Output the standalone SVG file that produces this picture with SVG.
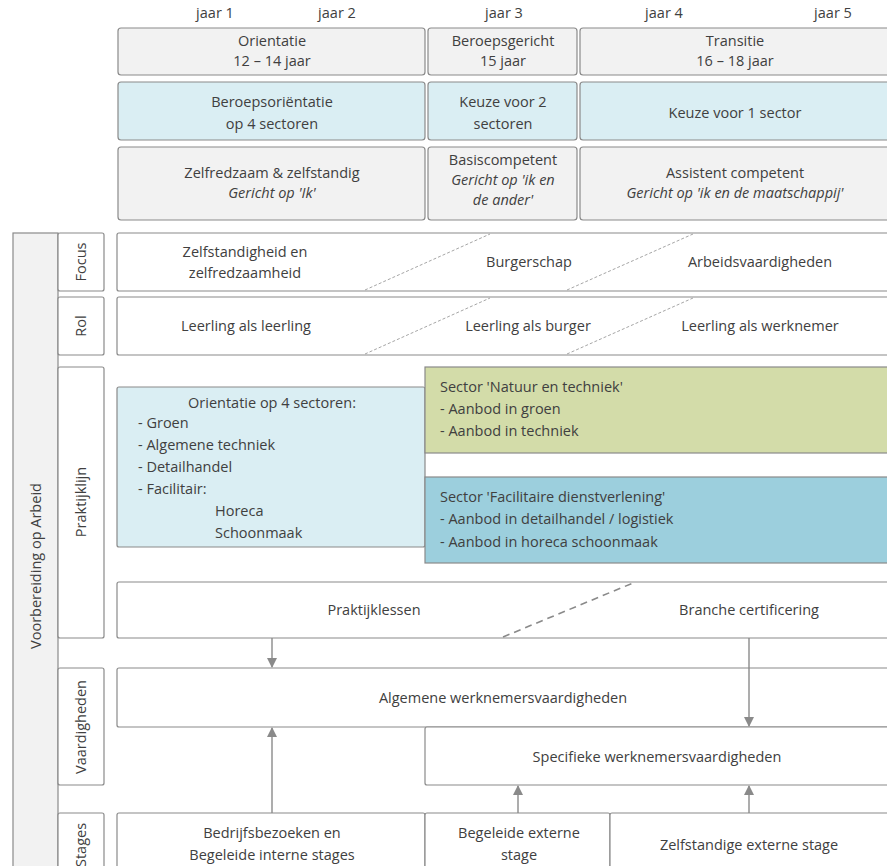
<svg xmlns="http://www.w3.org/2000/svg" width="887" height="866" viewBox="0 0 887 866">
<defs>
<style>
text{font-family:"Open Sans","Noto Sans","Liberation Sans",sans-serif;font-size:14.5px;fill:#404040}
.c{text-anchor:middle}
.it{font-style:italic}
.box{stroke:#8a8a8a;stroke-width:1.2}
.g{fill:#f2f2f2}
.w{fill:#ffffff}
.lb{fill:#daeef3}
.dia{stroke:#a6a6a6;stroke-width:1;stroke-dasharray:3 2;fill:none}
.dash{stroke:#8a8a8a;stroke-width:1.6;stroke-dasharray:7 5;fill:none}
.arr{stroke:#8a8a8a;stroke-width:1.4;fill:none;marker-end:url(#ah)}
</style>
<marker id="ah" markerWidth="10" markerHeight="10" refX="9" refY="5" orient="auto" markerUnits="userSpaceOnUse">
<path d="M0,0 L10,5 L0,10 z" fill="#8a8a8a"/>
</marker>
</defs>
<rect width="887" height="866" fill="#ffffff"/>

<g id="years">
<text x="215" y="18" class="c" font-size="12.5">jaar 1</text>
<text x="337" y="18" class="c" font-size="12.5">jaar 2</text>
<text x="504" y="18" class="c" font-size="12.5">jaar 3</text>
<text x="664" y="18" class="c" font-size="12.5">jaar 4</text>
<text x="833" y="18" class="c" font-size="12.5">jaar 5</text>
</g>

<g id="h-orientatie"><rect x="118" y="28" width="307" height="47" rx="3" class="box g"/><text x="272" y="46" class="c">Orientatie</text><text x="272" y="66" class="c">12 – 14 jaar</text></g>
<g id="h-beroeps"><rect x="428" y="28" width="149" height="47" rx="3" class="box g"/><text x="503" y="46" class="c">Beroepsgericht</text><text x="503" y="66" class="c">15 jaar</text></g>
<g id="h-transitie"><rect x="580" y="28" width="310" height="47" rx="3" class="box g"/><text x="735" y="46" class="c">Transitie</text><text x="735" y="66" class="c">16 – 18 jaar</text></g>

<g id="b-beroepsorientatie"><rect x="118" y="82" width="307" height="58" rx="3" class="box lb"/><text x="272" y="107" class="c">Beroepsoriëntatie</text><text x="272" y="129" class="c">op 4 sectoren</text></g>
<g id="b-keuze2"><rect x="428" y="82" width="149" height="58" rx="3" class="box lb"/><text x="503" y="107" class="c">Keuze voor 2</text><text x="503" y="129" class="c">sectoren</text></g>
<g id="b-keuze1"><rect x="580" y="82" width="310" height="58" rx="3" class="box lb"/><text x="735" y="118" class="c">Keuze voor 1 sector</text></g>

<g id="c-zelfredzaam"><rect x="118" y="147" width="307" height="73" rx="3" class="box g"/><text x="272" y="178" class="c">Zelfredzaam &amp; zelfstandig</text><text x="272" y="198" class="c it">Gericht op 'Ik'</text></g>
<g id="c-basis"><rect x="428" y="147" width="149" height="73" rx="3" class="box g"/><text x="503" y="165" class="c">Basiscompetent</text><text x="503" y="185" class="c it">Gericht op 'ik en</text><text x="503" y="205" class="c it">de ander'</text></g>
<g id="c-assistent"><rect x="580" y="147" width="310" height="73" rx="3" class="box g"/><text x="735" y="178" class="c">Assistent competent</text><text x="735" y="198" class="c it">Gericht op 'ik en de maatschappij'</text></g>

<g id="l-voorbereiding"><rect x="13" y="233" width="45" height="640" class="box g"/><text transform="translate(41,566) rotate(-90)" class="c">Voorbereiding op Arbeid</text></g>
<g id="l-focus"><rect x="58" y="233" width="46" height="58" rx="2" class="box w"/><text transform="translate(86,262) rotate(-90)" class="c">Focus</text></g>
<g id="l-rol"><rect x="58" y="297" width="46" height="58" rx="2" class="box w"/><text transform="translate(86,326) rotate(-90)" class="c">Rol</text></g>
<g id="l-praktijklijn"><rect x="58" y="367" width="46" height="271" rx="2" class="box w"/><text transform="translate(86,502) rotate(-90)" class="c">Praktijklijn</text></g>
<g id="l-vaardigheden"><rect x="58" y="668" width="46" height="117" rx="2" class="box w"/><text transform="translate(86,727) rotate(-90)" class="c">Vaardigheden</text></g>
<g id="l-stages"><rect x="58" y="813" width="46" height="60" rx="2" class="box w"/><text transform="translate(86,845) rotate(-90)" class="c">Stages</text></g>

<g id="r-focus"><rect x="117" y="233" width="773" height="58" rx="2" class="box w"/><text x="245" y="257" class="c">Zelfstandigheid en</text><text x="245" y="278" class="c">zelfredzaamheid</text><text x="529" y="267" class="c">Burgerschap</text><text x="760" y="267" class="c">Arbeidsvaardigheden</text></g>
<g id="r-rol"><rect x="117" y="297" width="773" height="58" rx="2" class="box w"/><text x="246" y="331" class="c">Leerling als leerling</text><text x="528" y="331" class="c">Leerling als burger</text><text x="760" y="331" class="c">Leerling als werknemer</text></g>

<g id="p-orientatie"><rect x="117" y="387" width="308" height="160" rx="2" class="box lb"/>
<text x="272" y="408" class="c">Orientatie op 4 sectoren:</text>
<text x="138" y="428">- Groen</text>
<text x="138" y="450">- Algemene techniek</text>
<text x="138" y="472">- Detailhandel</text>
<text x="138" y="494">- Facilitair:</text>
<text x="215" y="516">Horeca</text>
<text x="215" y="538">Schoonmaak</text></g>
<g id="p-natuur"><rect x="425" y="367" width="465" height="86" class="box" fill="#d3dca9"/>
<text x="440" y="392">Sector 'Natuur en techniek'</text>
<text x="440" y="414">- Aanbod in groen</text>
<text x="440" y="436">- Aanbod in techniek</text></g>
<g id="p-facilitaire"><rect x="425" y="477" width="465" height="86" class="box" fill="#9ccfdd"/>
<text x="440" y="502">Sector 'Facilitaire dienstverlening'</text>
<text x="440" y="524">- Aanbod in detailhandel / logistiek</text>
<text x="440" y="547">- Aanbod in horeca schoonmaak</text></g>
<g id="p-praktijklessen"><rect x="117" y="582" width="773" height="56" rx="2" class="box w"/><text x="374" y="615" class="c">Praktijklessen</text><text x="749" y="615" class="c">Branche certificering</text></g>

<g id="v-algemene"><rect x="117" y="668" width="773" height="59" rx="2" class="box w"/><text x="503" y="703" class="c">Algemene werknemersvaardigheden</text></g>
<g id="v-specifieke"><rect x="425" y="727" width="465" height="58" rx="2" class="box w"/><text x="657" y="762" class="c">Specifieke werknemersvaardigheden</text></g>

<g id="s-bedrijf"><rect x="117" y="813" width="308" height="60" rx="2" class="box w"/><text x="272" y="838" class="c">Bedrijfsbezoeken en</text><text x="272" y="860" class="c">Begeleide interne stages</text></g>
<g id="s-begeleide"><rect x="425" y="813" width="185" height="60" rx="2" class="box w"/><text x="519" y="838" class="c">Begeleide externe</text><text x="519" y="860" class="c">stage</text></g>
<g id="s-zelfstandige"><rect x="610" y="813" width="280" height="60" rx="2" class="box w"/><text x="749" y="850" class="c">Zelfstandige externe stage</text></g>

<g id="connectors">
<line x1="365" y1="290" x2="490" y2="234" class="dia"/>
<line x1="567" y1="290" x2="693" y2="234" class="dia"/>
<line x1="365" y1="354" x2="490" y2="298" class="dia"/>
<line x1="567" y1="354" x2="693" y2="298" class="dia"/>
<line x1="503" y1="637" x2="633" y2="583" class="dash"/>
<line x1="272" y1="638" x2="272" y2="667" class="arr"/>
<line x1="749" y1="638" x2="749" y2="726" class="arr"/>
<line x1="272" y1="813" x2="272" y2="728" class="arr"/>
<line x1="518" y1="813" x2="518" y2="786" class="arr"/>
<line x1="749" y1="813" x2="749" y2="786" class="arr"/>
</g>
</svg>
